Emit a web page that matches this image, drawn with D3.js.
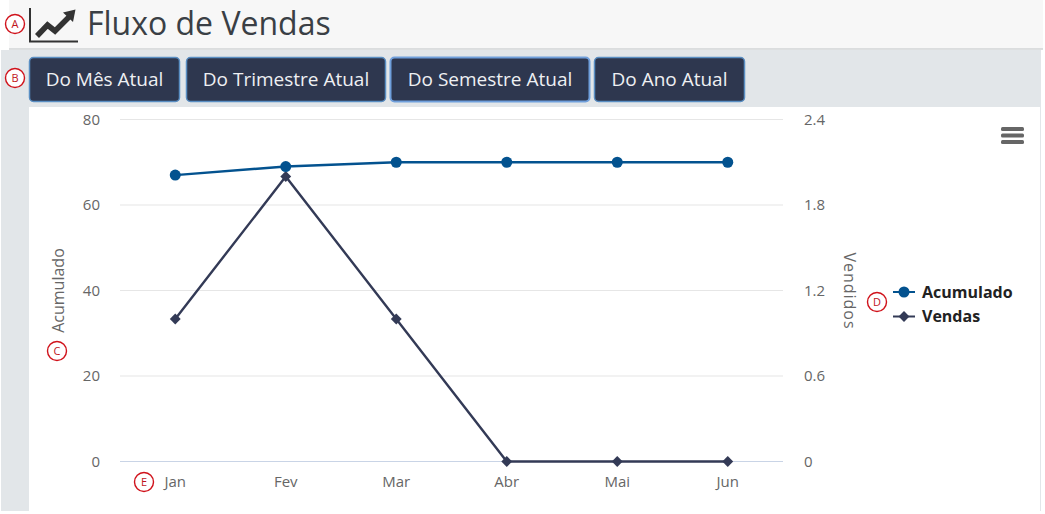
<!DOCTYPE html>
<html><head><meta charset="utf-8">
<script src="https://cdn.jsdelivr.net/npm/d3@7"></script>
<style>html,body{margin:0;padding:0;background:#fff;overflow:hidden}svg{display:block}text{font-family:"Open Sans",sans-serif}</style>
</head><body><svg id="c" width="1045" height="514"></svg>
<script>
const months = ["Jan","Fev","Mar","Abr","Mai","Jun"];
const acumulado = [67,69,70,70,70,70];
const vendas = [1,2,1,0,0,0];
const leftTicks = [0,20,40,60,80];
const rightTicks = [0,0.6,1.2,1.8,2.4];
const buttons = ["Do Mês Atual","Do Trimestre Atual","Do Semestre Atual","Do Ano Atual"];
const buttonEdges = [[29,180],[186,386],[390,590],[594,745]];
const notes = [["A",15,24],["B",15,78],["C",57,351],["D",877,302],["E",144,482]];
const svg = d3.select("#c");
const navy="#333a56", blue="#03528f";

svg.append("rect").attr("width",1045).attr("height",514).attr("fill","#fff");
svg.append("rect").attr("x",1).attr("y",50).attr("width",1040).attr("height",461).attr("fill","#e2e6e9");
svg.append("rect").attr("x",9).attr("width",1034).attr("height",49).attr("fill","#f7f7f7");
svg.append("line").attr("x1",9).attr("x2",1043).attr("y1",49).attr("y2",49).attr("stroke","#d2d4d6").attr("stroke-width",1.5);
svg.append("rect").attr("x",29).attr("y",107).attr("width",1011).attr("height",404).attr("fill","#fff");

// title and icon
const ic = svg.append("g").attr("fill","none").attr("stroke","#333");
ic.append("path").attr("d","M30 8V41.5H78").attr("stroke-width",2);
ic.append("path").attr("d","M37 36L47.5 25L55 31L70 16").attr("stroke-width",5.5);
svg.append("path").attr("d","M63 12.5L75.5 9.5L73 22Z").attr("fill","#333");
svg.append("text").attr("x",87).attr("y",35).attr("font-size",32).attr("fill","#3a3f45").text("Fluxo de Vendas");

// buttons
buttons.forEach((b,i)=>{
  const [a,e]=buttonEdges[i];
  svg.append("rect").attr("x",a+.5).attr("y",57.5).attr("width",e-a-1).attr("height",44).attr("rx",4)
    .attr("fill","#2e374f").attr("stroke",i==2?"#6f9fdc":"#5a8fc4").attr("stroke-width",i==2?2:1.5);
  svg.append("text").attr("x",(a+e)/2).attr("y",86).attr("text-anchor","middle").attr("font-size",19).attr("fill","#eef0f3").text(b);
});

// scales
const x = d3.scaleBand().domain(months).range([120,783]);
const yL = d3.scaleLinear().domain([0,80]).range([461.5,119.5]);
const yR = d3.scaleLinear().domain([0,2.4]).range([461.5,119.5]);
const cx = m=>x(m)+x.bandwidth()/2;
const grid = svg.append("g");
leftTicks.forEach(t=>{
  grid.append("line").attr("x1",120).attr("x2",783).attr("y1",yL(t)).attr("y2",yL(t))
   .attr("stroke",t==0?"#c9d4e6":"#e6e6e6").attr("stroke-width",1.2);
});
const tick = {fill:"#666",size:15};
svg.append("g").selectAll("text").data(leftTicks).join("text").attr("x",100).attr("y",d=>yL(d)+5)
  .attr("text-anchor","end").attr("font-size",tick.size).attr("fill",tick.fill).text(d=>d);
svg.append("g").selectAll("text").data(rightTicks).join("text").attr("x",804).attr("y",d=>yR(d)+5)
  .attr("font-size",tick.size).attr("fill",tick.fill).text(d=>d);
svg.append("g").selectAll("text").data(months).join("text").attr("x",cx).attr("y",487)
  .attr("text-anchor","middle").attr("font-size",tick.size).attr("fill",tick.fill).text(d=>d);
svg.append("text").attr("transform","translate(64,290.5) rotate(-90)").attr("text-anchor","middle").attr("font-size",16).attr("fill","#666").text("Acumulado");
svg.append("text").attr("transform","translate(844,291) rotate(90)").attr("text-anchor","middle").attr("font-size",16).attr("letter-spacing",1).attr("fill","#666").text("Vendidos");

// series
const l1=d3.line().x((d,i)=>cx(months[i])).y(d=>yL(d));
const l2=d3.line().x((d,i)=>cx(months[i])).y(d=>yR(d));
svg.append("path").attr("d",l1(acumulado)).attr("fill","none").attr("stroke",blue).attr("stroke-width",2.4);
svg.append("path").attr("d",l2(vendas)).attr("fill","none").attr("stroke",navy).attr("stroke-width",2.4);
const dia=d3.symbol().type(d3.symbolDiamond2).size(75);
svg.append("g").selectAll("path").data(vendas).join("path").attr("d",dia)
  .attr("transform",(d,i)=>`translate(${cx(months[i])},${yR(d)})`).attr("fill",navy);
svg.append("g").selectAll("circle").data(acumulado).join("circle")
  .attr("cx",(d,i)=>cx(months[i])).attr("cy",d=>yL(d)).attr("r",5.5).attr("fill",blue);

// menu
[129,135.5,142].forEach(y=>svg.append("rect").attr("x",1001).attr("y",y-2).attr("width",23).attr("height",4).attr("rx",1.5).attr("fill","#666"));

// legend
svg.append("line").attr("x1",893).attr("x2",915).attr("y1",292).attr("y2",292).attr("stroke",blue).attr("stroke-width",2);
svg.append("circle").attr("cx",904).attr("cy",292).attr("r",5.5).attr("fill",blue);
svg.append("line").attr("x1",893).attr("x2",915).attr("y1",316.5).attr("y2",316.5).attr("stroke",navy).attr("stroke-width",2);
svg.append("path").attr("d",dia).attr("transform","translate(904,316.5)").attr("fill",navy);
svg.append("text").attr("x",922).attr("y",298).attr("font-size",16).attr("font-weight",700).attr("fill","#222").text("Acumulado");
svg.append("text").attr("x",922).attr("y",322).attr("font-size",16).attr("font-weight",700).attr("fill","#222").text("Vendas");

// callouts
const n=svg.append("g").selectAll("g").data(notes).join("g").attr("transform",d=>`translate(${d[1]},${d[2]})`);
n.append("circle").attr("r",9.5).attr("fill","#fff").attr("stroke","#d0121b").attr("stroke-width",1.4);
n.append("text").attr("y",4).attr("text-anchor","middle").attr("font-size",11).attr("fill","#c0141b").text(d=>d[0]);
</script></body></html>
